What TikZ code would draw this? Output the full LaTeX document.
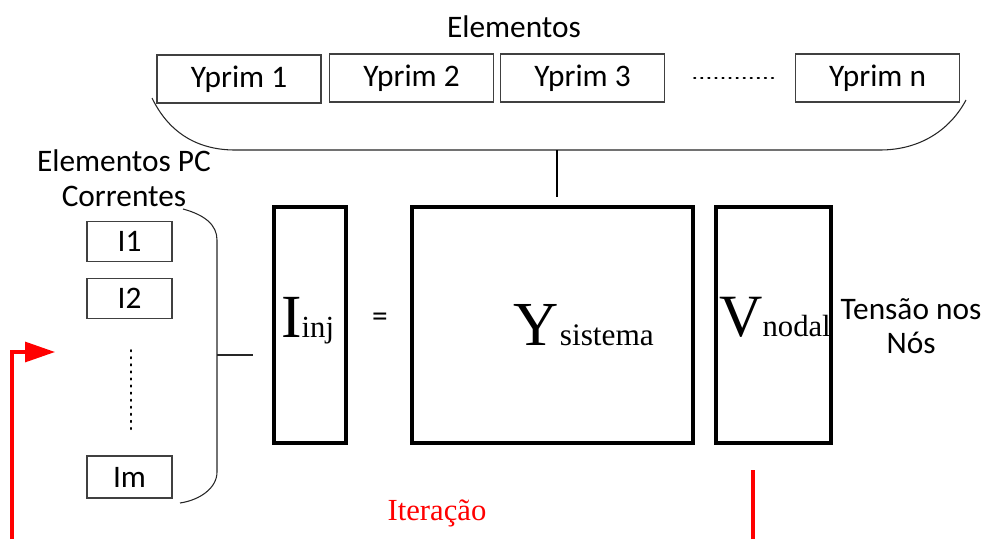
\documentclass[tikz,border=0pt]{standalone}
\usepackage{fontspec}
\setmainfont{Carlito}
\newfontfamily\tms{Liberation Serif}
\usetikzlibrary{arrows.meta}
\tikzset{
  thinbox/.style={draw=black!75, line width=0.9pt, inner sep=0pt},
  thickbox/.style={draw=black, line width=2.4pt, inner sep=0pt},
  lbl/.style={font=\fontsize{23.5}{27}\selectfont, inner sep=0pt},
  redln/.style={draw=red, line width=2.3pt},
}
\begin{document}
\begin{tikzpicture}[x=0.75pt,y=-0.75pt]
\useasboundingbox (0,0) rectangle (987,539);
% title
\node[lbl] (elem) at (514,27) {Elementos};
% Yprim boxes
\node[thinbox, lbl, minimum width=123pt, minimum height=36pt] (y1) at (239,79) {Yprim 1};
\node[thinbox, lbl, minimum width=123pt, minimum height=36pt] (y2) at (411.5,78) {Yprim 2};
\node[thinbox, lbl, minimum width=123pt, minimum height=36pt] (y3) at (582.5,78) {Yprim 3};
\node[thinbox, lbl, minimum width=123pt, minimum height=36pt] (yn) at (877.5,78) {Yprim n};
\draw[line width=1.3pt, dash pattern=on 1.1pt off 4.2pt, line cap=round] (694,78) coordinate (d1) -- (778,78) coordinate (d2);
% top bracket
\draw[black!85, line width=0.8pt] (152,98) .. controls (170,135) and (200,150) .. (235,150) coordinate (brl)
  -- (557,150) coordinate (brmid) -- (880,150) coordinate (brr)
  .. controls (920,150) and (950,130) .. (966,100);
\coordinate (ystop) at (557,197);
\draw[black, line width=0.9pt] (brmid) -- (ystop);
% left group
\node[lbl, align=center] (pc) at (124,178) {Elementos PC\\[-1pt]Correntes};
\node[thinbox, lbl, minimum width=63.75pt, minimum height=30pt] (i1) at (129.5,241.5) {I1};
\node[thinbox, lbl, minimum width=63.75pt, minimum height=30pt] (i2) at (129.5,298.5) {I2};
\node[thinbox, lbl, minimum width=63.75pt, minimum height=31.5pt] (im) at (129.5,477) {Im};
\draw[line width=1.3pt, dash pattern=on 1.1pt off 4.2pt, line cap=round] (131,350) coordinate (v1) -- (131,434) coordinate (v2);
% left brace
\draw[black!85, line width=0.8pt] (183,209) .. controls (205,215) and (217,225) .. (217,240)
  -- (217,355) coordinate (brc) -- (217,472) .. controls (217,488) and (200,500) .. (180,503);
\coordinate (iinjl) at (253,355);
\draw[black!85, line width=0.8pt] (brc) -- (iinjl);
% big boxes
\node[thickbox, minimum width=54pt, minimum height=177pt] (iinj) at (310,325) {};
\node[thickbox, minimum width=210.75pt, minimum height=177pt] (ysis) at (552.5,325) {};
\node[thickbox, minimum width=86.25pt, minimum height=177pt] (vnod) at (773.5,325) {};
\node[anchor=base west, inner sep=0pt, font=\tms] (iinjt) at (281,337)
  {{\fontsize{46}{46}\selectfont I}{\fontsize{23}{23}\selectfont inj}};
\node[anchor=base west, inner sep=0pt, font=\tms] (ysist) at (513,345)
  {{\fontsize{47}{47}\selectfont Y}\hspace{1pt}{\fontsize{23.5}{24}\selectfont sistema}};
\node[anchor=base west, inner sep=0pt, font=\tms] (vnodt) at (719,336)
  {{\fontsize{45}{45}\selectfont V}{\fontsize{23}{23}\selectfont nodal}};
\node[lbl] (eq) at (380,320) {=};
\node[lbl, align=center] (tens) at (911,326) {Tensão nos\\[-1pt]Nós};
% red iteration
\coordinate (rstart) at (12,539);
\coordinate (rtip) at (55,352);
\draw[redln, -{Triangle[length=22.5pt,width=15pt]}] (rstart) |- (rtip);
\coordinate (rv1) at (753,470);
\coordinate (rv2) at (753,539);
\draw[redln] (rv1) -- (rv2);
\node[font=\tms\fontsize{23}{26}\selectfont, text=red, inner sep=0pt] (iter) at (437,513) {Iteração};
\end{tikzpicture}
\end{document}
